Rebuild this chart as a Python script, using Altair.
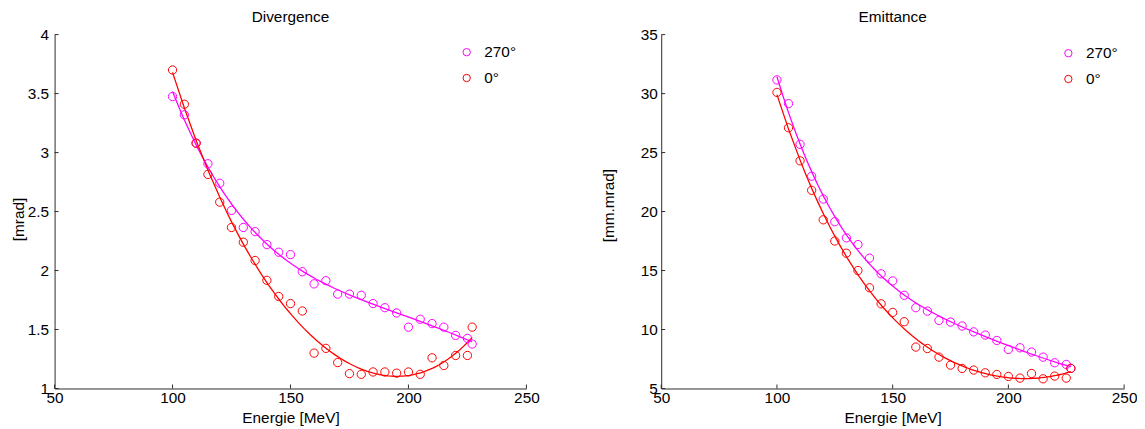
import altair as alt
import pandas as pd

# ---- data ----
energy = [100, 105, 110, 115, 120, 125, 130, 135, 140, 145, 150, 155, 160, 165,
          170, 175, 180, 185, 190, 195, 200, 205, 210, 215, 220, 225, 227]

div_270 = [3.475, 3.32, 3.08, 2.905, 2.74, 2.51, 2.365, 2.33, 2.22, 2.155, 2.135,
           1.99, 1.887, 1.914, 1.80, 1.80, 1.79, 1.72, 1.685, 1.64, 1.52, 1.587,
           1.55, 1.52, 1.45, 1.425, 1.377]
div_0 = [3.70, 3.41, 3.08, 2.815, 2.58, 2.365, 2.24, 2.085, 1.917, 1.78, 1.72,
         1.657, 1.30, 1.34, 1.22, 1.126, 1.12, 1.14, 1.14, 1.13, 1.14, 1.12,
         1.26, 1.195, 1.28, 1.28, 1.52]

emi_270 = [31.16, 29.15, 25.7, 23.0, 21.06, 19.14, 17.77, 17.2, 16.05, 14.72,
           14.12, 12.9, 11.85, 11.56, 10.77, 10.63, 10.3, 9.8, 9.53, 9.07, 8.31,
           8.45, 8.09, 7.66, 7.18, 7.04, 6.7]
emi_0 = [30.1, 27.1, 24.3, 21.8, 19.3, 17.5, 16.47, 15.0, 13.54, 12.18, 11.45,
         10.66, 8.51, 8.39, 7.66, 6.98, 6.7, 6.56, 6.33, 6.19, 6.02, 5.88, 6.27,
         5.82, 6.05, 5.88, 6.7]

series_names = ["270°", "0°"]
series_colors = ["#ff00ff", "#ff0000"]

x_ticks = [50, 100, 150, 200, 250]
div_ticks = [1, 1.5, 2, 2.5, 3, 3.5, 4]
emi_ticks = [5, 10, 15, 20, 25, 30, 35]

FONT = "Liberation Sans"
FS = 15.5
AXIS_COLOR = "#2b2b2b"


def long_df(v270, v0):
    rows = []
    for e, v in zip(energy, v270):
        rows.append({"energie": e, "value": v, "series": series_names[0]})
    for e, v in zip(energy, v0):
        rows.append({"energie": e, "value": v, "series": series_names[1]})
    return pd.DataFrame(rows)


def panel(df, title, ytitle, ydom, yticks, w, h, lx, ly, title_offset,
          label_pad, ytitle_x, ytitle_y):
    xs = alt.Scale(domain=[50, 250], nice=False, zero=False)
    ys = alt.Scale(domain=ydom, nice=False, zero=False)
    xaxis = alt.Axis(values=x_ticks, title="Energie [MeV]", ticks=False,
                     labelPadding=2, titlePadding=4.5, grid=False,
                     labelFlush=False)
    yaxis = alt.Axis(values=yticks, title=ytitle, ticks=False,
                     labelPadding=label_pad, grid=False, labelFlush=False,
                     titleX=ytitle_x, titleY=ytitle_y, titleAngle=270,
                     titleAlign="center", titleBaseline="middle",
                     labelExpr="format(datum.value, '')")

    base = alt.Chart(df)
    pts = base.mark_point(filled=False, size=70, strokeWidth=1, opacity=1).encode(
        x=alt.X("energie:Q", scale=xs, axis=xaxis),
        y=alt.Y("value:Q", scale=ys, axis=yaxis),
        color=alt.Color("series:N",
                        scale=alt.Scale(domain=series_names, range=series_colors),
                        legend=alt.Legend(orient="none", legendX=lx, legendY=ly,
                                          title=None, symbolType="circle",
                                          symbolSize=55, symbolStrokeWidth=1,
                                          labelFont=FONT, labelFontSize=FS,
                                          labelColor="black", rowPadding=9,
                                          labelOffset=10, padding=0)),
    )
    fit = base.transform_regression(
        "energie", "value", groupby=["series"], method="poly", order=4,
        extent=[100, 227]
    ).mark_line(strokeWidth=1.3).encode(
        x=alt.X("energie:Q", scale=xs),
        y=alt.Y("value:Q", scale=ys),
        stroke=alt.Stroke("series:N",
                          scale=alt.Scale(domain=series_names, range=series_colors),
                          legend=None),
    )
    yt = alt.Chart(pd.DataFrame({"t": yticks})).mark_rule(
        color=AXIS_COLOR, strokeWidth=1).encode(
        y=alt.Y("t:Q", scale=ys), x=alt.value(0), x2=alt.value(4))
    xt = alt.Chart(pd.DataFrame({"t": x_ticks})).mark_rule(
        color=AXIS_COLOR, strokeWidth=1).encode(
        x=alt.X("t:Q", scale=xs), y=alt.value(h), y2=alt.value(h - 4))

    return alt.layer(fit, pts, yt, xt).properties(
        width=w, height=h,
        title=alt.Title(title, font=FONT, fontSize=FS, fontWeight="normal",
                        color="black", anchor="middle", offset=title_offset,
                        dy=-8),
    ).resolve_scale(color="independent", stroke="independent")


left = panel(long_df(div_270, div_0), "Divergence", "[mrad]", [1, 4], div_ticks,
             476, 357, 408, 10, -6, 6, -36, 186)
right = panel(long_df(emi_270, emi_0), "Emittance", "[mm.mrad]", [5, 35], emi_ticks,
              467, 357, 403, 11, -6, 4, -53, 172)

chart = alt.hconcat(left, right, spacing=63).resolve_legend(
    color="independent").resolve_scale(color="independent", stroke="independent",
                                       x="independent", y="independent").properties(
    padding={"left": 4, "top": 0, "right": 0, "bottom": 0},
).configure_axis(
    labelFont=FONT, titleFont=FONT, labelFontSize=FS, titleFontSize=FS,
    titleFontWeight="normal", labelColor="black", titleColor="black",
    domainColor=AXIS_COLOR, domainWidth=1,
).configure_view(stroke=None)

chart.save("out.html", embed_options={"renderer": "svg", "actions": False})
